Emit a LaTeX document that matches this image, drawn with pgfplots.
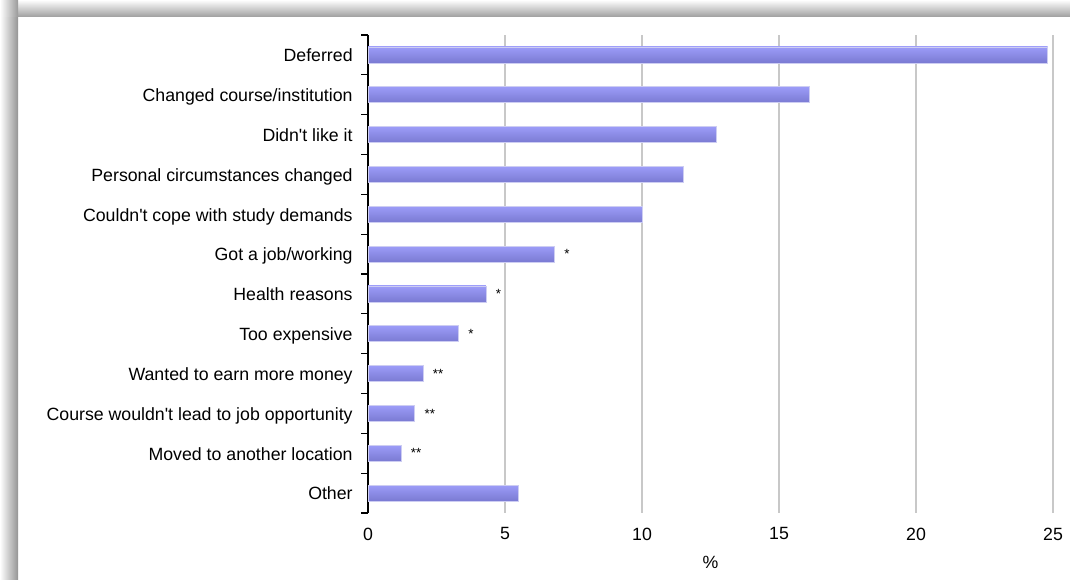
\documentclass[border=0pt]{standalone}
\usepackage{fontspec}
\setmainfont{Liberation Sans}
\usepackage{pgfplots}
\pgfplotsset{compat=1.18}
\definecolor{bartop}{RGB}{156,156,248}
\definecolor{barbot}{RGB}{122,122,210}
\definecolor{baredge}{RGB}{205,205,242}
\definecolor{gridc}{RGB}{200,200,200}
\pgfplotsset{mybar/.style={xbar, bar width=12pt, bar shift=0pt, draw=baredge, line width=0.4pt, top color=bartop, bottom color=barbot}}
\begin{document}
\begin{tikzpicture}
\fill[white] (0,0) rectangle (802.5pt,434.25pt);
\shade[left color=white, right color=black!42] (0,0) rectangle (13.5pt,421.5pt);
\shade[top color=white, bottom color=black!38] (6pt,421.5pt) rectangle (802.5pt,434.25pt);
\shade[left color=white, right color=black!40] (0,421.5pt) rectangle (13.5pt,434.25pt);
\begin{axis}[
  at={(276pt,49.5pt)}, anchor=south west,
  scale only axis, width=513.75pt, height=358.5pt,
  xmin=0, xmax=25, ymin=-0.5, ymax=11.5,
  y dir=reverse,
  axis y line*=left, axis x line*=bottom,
  x axis line style={draw=none},
  y axis line style={black, line width=0.8pt},
  xtick={0,5,10,15,20,25},
  major x tick style={draw=none},
  xmajorgrids, grid style={gridc, line width=1pt},
  ytick={0,...,11},
  yticklabels={Deferred,Changed course/institution,Didn\textquotesingle t like it,Personal circumstances changed,Couldn\textquotesingle t cope with study demands,Got a job/working,Health reasons,Too expensive,Wanted to earn more money,Course wouldn\textquotesingle t lead to job opportunity,Moved to another location,Other},
  minor ytick={-0.5,0.5,...,11.5},
  major tick length=0pt,
  minor tick length=5pt,
  tick align=outside,
  minor y tick style={black, line width=0.8pt},
  every tick label/.append style={font=\fontsize{13.3}{15}\selectfont},
  yticklabel style={xshift=-8pt, yshift=-1.5pt, text height=0.72em, text depth=0pt},
  xticklabel style={yshift=-7.5pt},
  /pgf/number format/assume math mode=true,
  xlabel={\%},
  xlabel style={at={(axis description cs:0.5,0)}, anchor=center, yshift=-36.75pt, font=\fontsize{13.3}{15}\selectfont},
  clip=false,
]
\addplot[mybar] coordinates {(24.8,0)};
\addplot[mybar] coordinates {(16.1,1)};
\addplot[mybar] coordinates {(12.7,2)};
\addplot[mybar] coordinates {(11.5,3)};
\addplot[mybar] coordinates {(10.0,4)};
\addplot[mybar] coordinates {(6.8,5)};
\addplot[mybar] coordinates {(4.3,6)};
\addplot[mybar] coordinates {(3.3,7)};
\addplot[mybar] coordinates {(2.0,8)};
\addplot[mybar] coordinates {(1.7,9)};
\addplot[mybar] coordinates {(1.2,10)};
\addplot[mybar] coordinates {(5.5,11)};
\addplot[draw=none, mark=none, only marks, point meta=explicit symbolic,
  nodes near coords, nodes near coords style={anchor=west, xshift=4pt, font=\fontsize{10}{10}\selectfont}]
coordinates {(6.8,5) [*] (4.3,6) [*] (3.3,7) [*] (2.0,8) [**] (1.7,9) [**] (1.2,10) [**]};
\end{axis}
\pgfresetboundingbox
\useasboundingbox (0,0) rectangle (802.5pt,434.25pt);
\end{tikzpicture}
\end{document}
